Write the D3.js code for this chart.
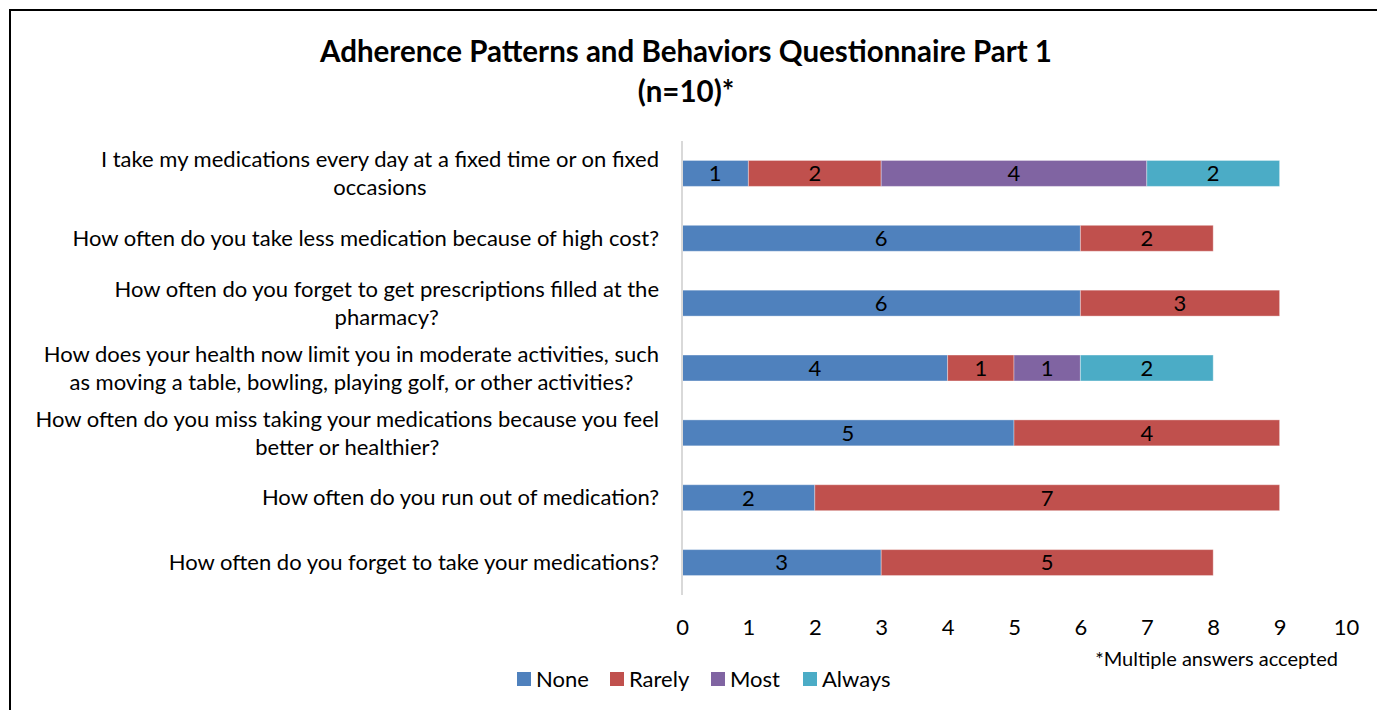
<!DOCTYPE html>
<html>
<head>
<meta charset="utf-8">
<script src="https://d3js.org/d3.v7.min.js"></script>
<style>
  html, body { margin: 0; padding: 0; background: #fff; }
  svg { display: block; font-family: Lato, "Open Sans", sans-serif; }
</style>
</head>
<body>
<div id="chart"></div>
<script>
// Data
const questions = [
    "I take my medications every day at a fixed time or on fixed\noccasions",
    "How often do you take less medication because of high cost?",
    "How often do you forget to get prescriptions filled at the\npharmacy?",
    "How does your health now limit you in moderate activities, such\nas moving a table, bowling, playing golf, or other activities?",
    "How often do you miss taking your medications because you feel\nbetter or healthier?",
    "How often do you run out of medication?",
    "How often do you forget to take your medications?"
];
const responses = ["None", "Rarely", "Most", "Always"];
const noneVals   = [1, 6, 6, 4, 5, 2, 3];
const rarelyVals = [2, 2, 3, 1, 4, 7, 5];
const mostVals   = [4, 0, 0, 1, 0, 0, 0];
const alwaysVals = [2, 0, 0, 2, 0, 0, 0];
const xTicks = d3.range(0, 11);

const colors = {
    None: "#4F81BD",
    Rarely: "#C0504D",
    Most: "#8064A2",
    Always: "#4BACC6"
};

// Layout
const WIDTH = 1377, HEIGHT = 710;
const PLOT = { left: 682, right: 1346, top: 141, bottom: 595 };
const FONT = 22;

const rows = questions.map((q, i) => ({
    q,
    None: noneVals[i], Rarely: rarelyVals[i], Most: mostVals[i], Always: alwaysVals[i]
}));

const svg = d3.select("#chart").append("svg")
    .attr("width", WIDTH)
    .attr("height", HEIGHT);

// Outer border
svg.append("rect")
    .attr("x", 10).attr("y", 10)
    .attr("width", WIDTH + 20).attr("height", HEIGHT + 20)
    .attr("fill", "none")
    .attr("stroke", "#000")
    .attr("stroke-width", 2);

// Title
const title = svg.append("text")
    .attr("text-anchor", "middle")
    .attr("font-weight", "bold")
    .attr("font-size", 29.5)
    .attr("fill", "#000");
title.append("tspan").attr("x", 686).attr("y", 62).text("Adherence Patterns and Behaviors Questionnaire Part 1");
title.append("tspan").attr("x", 686).attr("y", 102).text("(n=10)*");

// Scales
const x = d3.scaleLinear().domain([0, 10]).range([PLOT.left, PLOT.right]);
const y = d3.scaleBand().domain(questions).range([PLOT.top, PLOT.bottom]).paddingInner(0.6).paddingOuter(0.3);

// X axis (labels only)
const xAxis = svg.append("g")
    .attr("transform", `translate(0,${PLOT.bottom + 32})`)
    .call(d3.axisBottom(x).tickValues(xTicks).tickSize(0).tickPadding(0));
xAxis.select(".domain").remove();
xAxis.selectAll("text")
    .attr("font-family", "Lato, 'Open Sans', sans-serif")
    .attr("font-size", FONT)
    .attr("fill", "#000")
    .attr("dy", "0.35em");

// Stacked bars
const stack = d3.stack().keys(responses);
const series = stack(rows);

const groups = svg.append("g").selectAll("g")
    .data(series)
    .join("g")
    .attr("fill", d => colors[d.key]);

groups.selectAll("rect")
    .data(d => d.filter(s => s[1] - s[0] > 0))
    .join("rect")
    .attr("x", d => x(d[0]))
    .attr("y", d => y(d.data.q))
    .attr("width", d => x(d[1]) - x(d[0]))
    .attr("height", y.bandwidth())
    .attr("stroke", "rgba(255,255,255,0.35)")
    .attr("stroke-width", 1);

groups.selectAll("text")
    .data(d => d.filter(s => s[1] - s[0] > 0))
    .join("text")
    .attr("x", d => (x(d[0]) + x(d[1])) / 2)
    .attr("y", d => y(d.data.q) + y.bandwidth() / 2)
    .attr("dy", "0.36em")
    .attr("text-anchor", "middle")
    .attr("font-size", FONT)
    .attr("fill", "#000")
    .text(d => d[1] - d[0]);

// Vertical axis line
svg.append("line")
    .attr("x1", x(0)).attr("x2", x(0))
    .attr("y1", PLOT.top).attr("y2", PLOT.bottom)
    .attr("stroke", "#d9d9d9")
    .attr("stroke-width", 2);

// Category labels, right-aligned block, lines centred within the block
const LABEL_RIGHT = 659, LINE_H = 28;
questions.forEach(q => {
    const lines = q.split("\n");
    const cy = y(q) + y.bandwidth() / 2;
    const g = svg.append("g");
    const texts = lines.map((line, i) => g.append("text")
        .attr("y", cy + (i - (lines.length - 1) / 2) * LINE_H)
        .attr("dy", "0.35em")
        .attr("font-size", FONT)
        .attr("fill", "#000")
        .text(line));
    const maxW = d3.max(texts, t => t.node().getComputedTextLength());
    texts.forEach(t => t.attr("x", LABEL_RIGHT - maxW / 2).attr("text-anchor", "middle"));
});

// Footnote
svg.append("text")
    .attr("x", 1338).attr("y", 659)
    .attr("dy", "0.35em")
    .attr("text-anchor", "end")
    .attr("font-size", 20)
    .attr("fill", "#000")
    .text("*Multiple answers accepted");

// Legend
const legendX = [517, 610, 711, 803];
const legend = svg.append("g").selectAll("g")
    .data(responses)
    .join("g")
    .attr("transform", (d, i) => `translate(${legendX[i]},679)`);
legend.append("rect")
    .attr("x", 0).attr("y", -7)
    .attr("width", 14).attr("height", 14)
    .attr("fill", d => colors[d]);
legend.append("text")
    .attr("x", 19)
    .attr("dy", "0.35em")
    .attr("font-size", FONT)
    .attr("fill", "#000")
    .text(d => d);
</script>
</body>
</html>
